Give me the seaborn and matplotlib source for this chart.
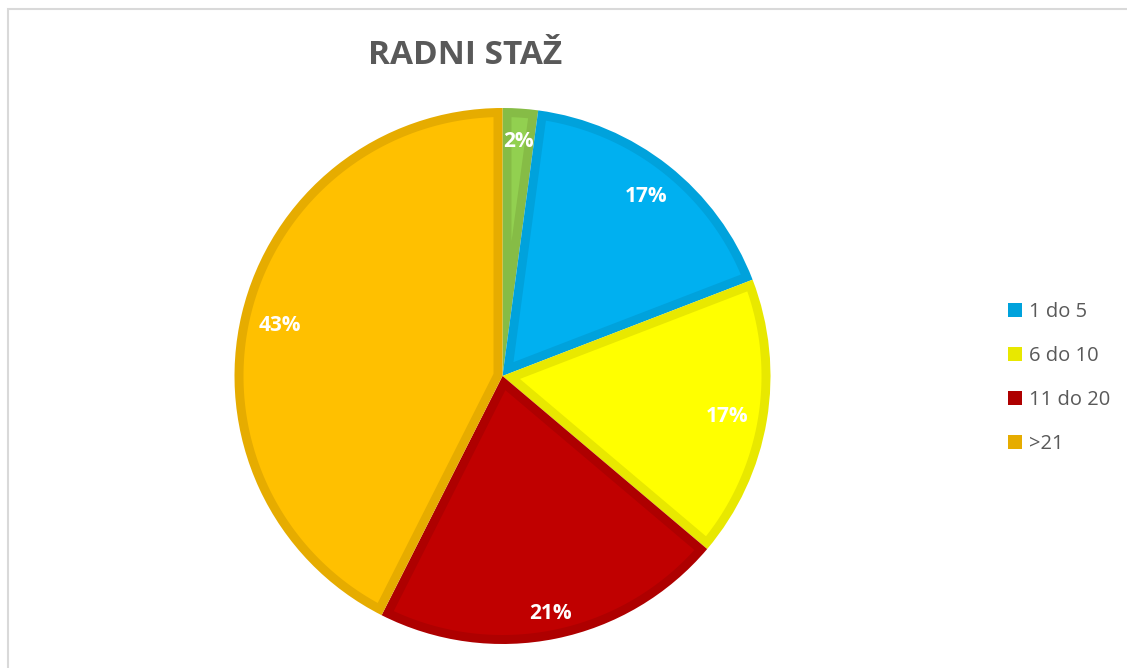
import numpy as np
import seaborn as sns
import matplotlib.pyplot as plt
from matplotlib.patches import Patch, Rectangle

# Data (counts that give 2/17/17/21/43 %)
categories = ["<1", "1 do 5", "6 do 10", "11 do 20", ">21"]
counts = [1, 8, 8, 10, 20]
legend_labels = ["1 do 5", "6 do 10", "11 do 20", ">21"]

fill_colors = ["#92D050", "#00B0F0", "#FFFF00", "#C00000", "#FFC000"]
edge_colors = ["#86BC46", "#00A2DC", "#E8E800", "#AE0000", "#E6AC00"]
# how far out each percentage label sits (fraction of radius)
label_dist = [0.886, 0.864, 0.849, 0.896, 0.855]

sns.set_theme(style="white")
plt.rcParams['font.family'] = ['Open Sans', 'DejaVu Sans']

fig = plt.figure(figsize=(11.27, 6.68), dpi=100)
W, H = 1127, 668

# light gray chart frame (right/bottom run off the picture)
fig.add_artist(Rectangle((8 / W, -0.1), 1.2, 1 - 9 / H + 0.1, transform=fig.transFigure,
                         fill=False, edgecolor="#D9D9D9", linewidth=1.5))

cx, cy, r = 502.5, 668 - 376, 268
ax = fig.add_axes([(cx - r) / W, (cy - r) / H, 2 * r / W, 2 * r / H])

total = sum(counts)
# outer pie in the darker border colour
wedges, texts = ax.pie(counts, colors=edge_colors, startangle=90, counterclock=False,
                       labels=[f"{round(100 * c / total)}%" for c in counts],
                       textprops=dict(color="white", fontweight="bold", fontsize=15,
                                      ha="center", va="center", zorder=5),
                       wedgeprops=dict(linewidth=0))
ax.set_xlim(-1, 1)
ax.set_ylim(-1, 1)
ax.axis("off")

# lighter inner part of each slice, inset by the border width
d = 9 / r
for w, fc, t, ld in zip(wedges, fill_colors, texts, label_dist):
    t1, t2 = np.radians([w.theta1, w.theta2])
    half = (t2 - t1) / 2
    mid = (t1 + t2) / 2
    apex = d / np.sin(half)
    delta = np.arcsin(d / (w.r - d))
    arc = np.linspace(t1 + delta, t2 - delta, 200)
    xs = np.r_[apex * np.cos(mid), (w.r - d) * np.cos(arc)]
    ys = np.r_[apex * np.sin(mid), (w.r - d) * np.sin(arc)]
    ax.fill(xs, ys, color=fc, linewidth=0, zorder=2)
    t.set_position((ld * np.cos(mid), ld * np.sin(mid) - 0.009))

fig.text(465 / W, 1 - 56 / H, "RADNI STAŽ", ha="center", va="center",
         fontsize=24, fontweight="bold", color="#595959")

handles = [Patch(facecolor=c, edgecolor="none") for c in edge_colors[1:]]
fig.legend(handles, legend_labels, loc="center left", bbox_to_anchor=(990 / W, 1 - 378 / H),
           frameon=False, fontsize=14.5, labelcolor="#595959", handlelength=0.7,
           handleheight=0.7, handletextpad=0.35, labelspacing=1.2)

fig.savefig("out.png", dpi=100)
